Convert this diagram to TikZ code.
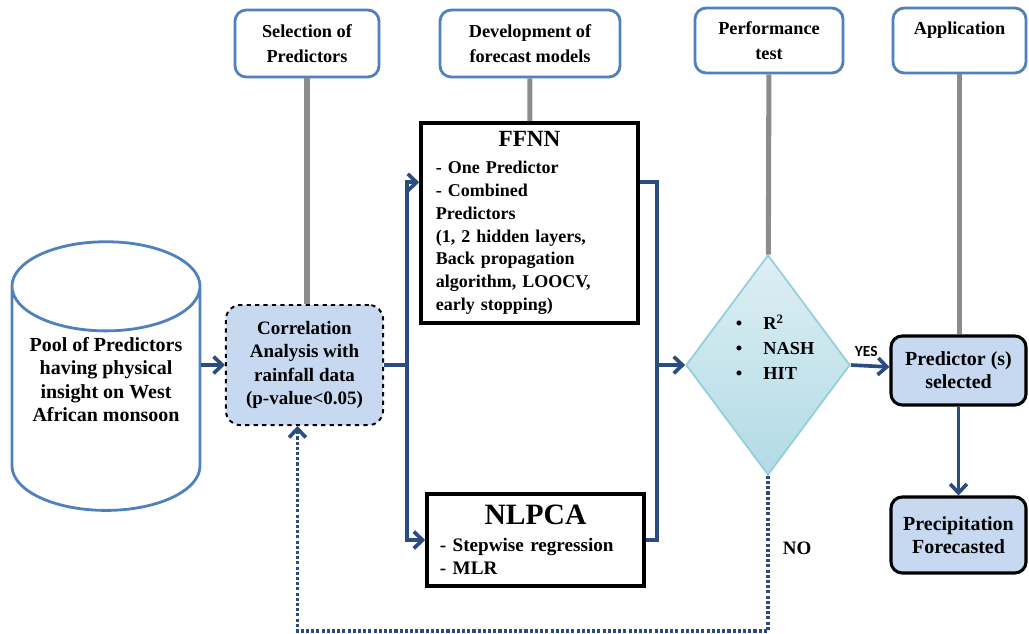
\documentclass[tikz,border=0pt]{standalone}
\usepackage{fontspec}
\setmainfont{Liberation Serif}
\newfontfamily\yesfont{Carlito}
\usepackage{tikz}
\usetikzlibrary{shapes.geometric,arrows.meta,calc,positioning}
\definecolor{flowblue}{HTML}{2B4C7E}
\definecolor{headblue}{HTML}{4F81BD}
\definecolor{boxfill}{HTML}{C6D9F1}
\definecolor{stemgray}{HTML}{8C8C8C}
\definecolor{diaedge}{HTML}{92CDDC}
\definecolor{diatop}{HTML}{DDEFF4}
\definecolor{diabot}{HTML}{B2DAE5}

\begin{document}
\begin{tikzpicture}[x=0.025cm, y=-0.025cm,
   >={Straight Barb[length=2.2mm,width=4.2mm]},
   flow/.style={draw=flowblue, line width=2.6pt},
   stem/.style={draw=stemgray, line width=3.6pt},
   maintext/.style={font=\bfseries\fontsize{13.5}{16.5}\selectfont, align=center},
   model/.style={rectangle, draw=black, line width=2.5pt, fill=white, align=left,
      font=\bfseries\fontsize{12.8}{16.2}\selectfont, minimum width=5.425cm},
   result/.style={rectangle, rounded corners=8pt, draw=black, line width=2.2pt,
      fill=boxfill, maintext, minimum width=3.375cm}]
   \useasboundingbox (0,0) rectangle (1029,633);
   \begin{scope}[every node/.style={rectangle, rounded corners=8pt, draw=headblue,
      line width=2pt, fill=white, align=center,
      font=\bfseries\fontsize{13}{17.5}\selectfont}]
    \node (sel) at (307,43.5) [minimum width=3.6cm, minimum height=1.675cm] {Selection of\\Predictors};
    \node (dev) at (530,43.5) [minimum width=4.5cm, minimum height=1.675cm] {Development of\\forecast models};
    \node (perf) at (769,40.5) [minimum width=3.7cm, minimum height=1.625cm] {Performance\\test};
    \node (app) at (959.5,40.5) [minimum width=3.325cm, minimum height=1.625cm] {Application\\\mbox{}};
   \end{scope}
   \node (pool) at (106,406) [cylinder, shape border rotate=90, aspect=0.55, draw=headblue,
      line width=2pt, fill=white, minimum width=4.7cm, minimum height=6.125cm, maintext,
      font=\bfseries\fontsize{14.2}{16.8}\selectfont]
      {Pool of Predictors\\having physical\\insight on West\\African monsoon\\[21pt]\mbox{}};
   \node (corr) at (304.5,365) [rectangle, rounded corners=10pt, draw=black, dashed,
      line width=1.4pt, fill=boxfill, minimum width=3.925cm, minimum height=3cm, maintext]
      {Correlation\\Analysis with\\rainfall data\\(p-value<0.05)};
   \node (ffnn) at (529.5,223) [model, text width=4.675cm, minimum height=5cm]
      {\makebox[\linewidth]{\fontsize{16.5}{18}\selectfont FFNN}\\[3pt]- One Predictor\\- Combined\\Predictors\\(1, 2 hidden layers,\\Back propagation\\algorithm, LOOCV,\\early stopping)};
   \node (nlpca) at (535.5,540) [model, text width=4.775cm, minimum height=2.3cm,
      font=\bfseries\fontsize{13.6}{16.4}\selectfont]
      {\makebox[\linewidth]{\fontsize{21}{20}\selectfont NLPCA}\\[3pt]- Stepwise regression\\- MLR};
   \node (test) at (768,365) [diamond, draw=diaedge, line width=1.2pt, top color=diatop,
      bottom color=diabot, minimum width=4.1cm, minimum height=5.5cm, inner sep=0pt] {};
   \node (crit) at (731,347) [anchor=west, align=left, font=\bfseries\fontsize{13}{17.7}\selectfont]
      {\textbullet\hspace{15pt}R\textsuperscript{2}\\\textbullet\hspace{15pt}NASH\\\textbullet\hspace{15pt}HIT};
   \node (pred) at (958.5,370.5) [result, minimum height=1.725cm,
      font=\bfseries\fontsize{14.2}{16.3}\selectfont] {Predictor (s)\\selected};
   \node (prec) at (958.5,535) [result, minimum height=1.9cm,
      font=\bfseries\fontsize{14.2}{16.3}\selectfont] {Precipitation\\Forecasted};
   \coordinate (split) at (407,365);
   \coordinate (merge) at (657,365);
   \draw[stem] (sel) -- (sel |- corr.north);
   \draw[stem] (dev) -- (ffnn);
   \draw[stem] (perf) -- (test);
   \draw[stem] (app) -- (app |- pred.north);
   \draw[flow, ->] (pool.east |- corr) -- (corr);
   \draw[flow] (corr) -- (split);
   \draw[flow, ->] (split) |- ($(ffnn.north west)!0.3!(ffnn.south west)$);
   \draw[flow, ->] (split) |- (nlpca.west);
   \draw[flow] ($(ffnn.north east)!0.3!(ffnn.south east)$) -| (merge);
   \draw[flow] (nlpca.east) -| (merge);
   \draw[flow, ->] (merge) -- (test);
   \draw[flow, ->] (test.east) -- node[pos=0.4, yshift=10pt, font=\yesfont\bfseries\fontsize{11}{12}\selectfont]{YES} (pred);
   \draw[flow, ->] (pred) -- (prec);
   \draw[flow, dash pattern=on 2.2pt off 1.5pt, ->] (test.south)
      -- node[pos=0.47, right=6pt, maintext]{NO} ++(0,155) -| ([xshift=-5pt]corr.south);
\end{tikzpicture}
\end{document}
